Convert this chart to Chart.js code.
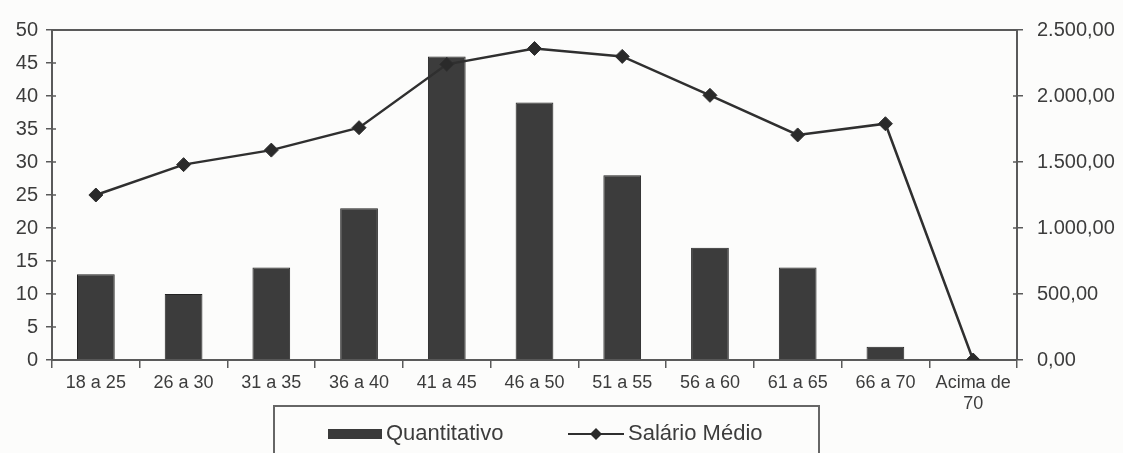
<!DOCTYPE html>
<html lang="pt-BR">
<head>
<meta charset="utf-8">
<title>Quantitativo e Salário Médio por faixa etária</title>
<script src="https://cdn.jsdelivr.net/npm/chart.js@4/dist/chart.umd.min.js"></script>
<style>
    html, body { margin: 0; padding: 0; background: #fcfcfb; }
    #wrap { position: relative; width: 1123px; height: 453px; overflow: hidden; }
    #grafico { display: block; }
    .legenda {
        position: absolute;
        left: 273px;
        top: 405px;
        width: 547px;
        height: 60px;
        border: 2px solid #666;
        box-sizing: border-box;
        font-family: "Liberation Sans", Arial, sans-serif;
        font-size: 22px;
        color: #3c3c3c;
    }
    .legenda .item { position: absolute; top: 13px; height: 26px; line-height: 26px; white-space: nowrap; }
    .legenda .barra { display: inline-block; width: 54px; height: 10px; background: #3a3a3a; vertical-align: middle; margin-right: 4px; }
    .legenda svg { vertical-align: middle; margin-right: 4px; }
</style>
</head>
<body>
<div id="wrap">
    <canvas id="grafico" width="1123" height="453"></canvas>
    <div class="legenda">
        <div class="item" style="left: 53px;"><span class="barra"></span>Quantitativo</div>
        <div class="item" style="left: 293px;">
            <svg width="56" height="14" viewBox="0 0 56 14">
                <line x1="0" y1="7" x2="56" y2="7" stroke="#2f2f2f" stroke-width="2"/>
                <polygon points="28,1 34,7 28,13 22,7" fill="#2a2a2a"/>
            </svg>Salário Médio
        </div>
    </div>
</div>

<script>
// Faixas etárias
const faixas = ['18 a 25', '26 a 30', '31 a 35', '36 a 40', '41 a 45', '46 a 50',
    '51 a 55', '56 a 60', '61 a 65', '66 a 70', ['Acima de', '70']];

// Número de funcionários por faixa
const quantitativo = [13, 10, 14, 23, 46, 39, 28, 17, 14, 2, 0];

// Salário médio (R$) por faixa
const salarioMedio = [1250, 1480, 1590, 1760, 2240, 2360, 2300, 2005, 1705, 1790, 0];

// Limites dos eixos
const eixoQtd = { min: 0, max: 50, passo: 5 };
const eixoSal = { min: 0, max: 2500, passo: 500 };

const corTexto = '#3c3c3c';
const corEixo = '#5a5a5a';
const fonte = 'Liberation Sans, Arial, sans-serif';

// Formata no padrão brasileiro: 2.500,00
const formatoBR = new Intl.NumberFormat('pt-BR', { minimumFractionDigits: 2, maximumFractionDigits: 2 });

// Moldura superior e marcas internas dos eixos verticais
const molduraPlugin = {
    id: 'moldura',
    afterDraw(chart) {
        const { ctx, chartArea } = chart;
        ctx.save();
        ctx.strokeStyle = corEixo;
        ctx.lineWidth = 2;
        ctx.beginPath();
        ctx.moveTo(chartArea.left, chartArea.top);
        ctx.lineTo(chartArea.right, chartArea.top);
        ctx.stroke();

        ctx.lineWidth = 1.5;
        ['y', 'y1'].forEach(id => {
            const s = chart.scales[id];
            const x = id === 'y' ? chartArea.left : chartArea.right;
            const dir = id === 'y' ? 1 : -1;
            s.ticks.forEach(t => {
                const py = s.getPixelForValue(t.value);
                ctx.beginPath();
                ctx.moveTo(x, py);
                ctx.lineTo(x + dir * 4, py);
                ctx.stroke();
            });
        });
        ctx.restore();
    }
};

const ctx = document.getElementById('grafico');
new Chart(ctx, {
    data: {
        labels: faixas,
        datasets: [
            {
                type: 'line',
                label: 'Salário Médio',
                data: salarioMedio,
                yAxisID: 'y1',
                borderColor: '#2f2f2f',
                borderWidth: 2.5,
                backgroundColor: '#2a2a2a',
                pointStyle: 'rectRot',
                pointRadius: 7,
                pointBorderWidth: 1,
                tension: 0,
                order: 0
            },
            {
                type: 'bar',
                label: 'Quantitativo',
                data: quantitativo,
                yAxisID: 'y',
                backgroundColor: '#3c3c3c',
                borderColor: '#222',
                borderWidth: 1,
                barPercentage: 0.43,
                categoryPercentage: 1,
                order: 1
            }
        ]
    },
    options: {
        responsive: false,
        animation: false,
        layout: { padding: { top: 30, left: 0, right: 0, bottom: 0 } },
        plugins: {
            legend: { display: false },
            tooltip: { enabled: false }
        },
        scales: {
            x: {
                offset: true,
                grid: {
                    offset: true,
                    drawOnChartArea: false,
                    drawTicks: true,
                    tickLength: 8,
                    color: corEixo,
                    lineWidth: 1.5
                },
                border: { display: true, color: corEixo, width: 2 },
                ticks: {
                    color: corTexto,
                    font: { family: fonte, size: 18 },
                    padding: 4,
                    maxRotation: 0,
                    autoSkip: false
                },
                afterFit(scale) { scale.height = 93; }
            },
            y: {
                position: 'left',
                min: eixoQtd.min,
                max: eixoQtd.max,
                grid: {
                    drawOnChartArea: false,
                    drawTicks: true,
                    tickLength: 6,
                    color: corEixo,
                    lineWidth: 1.5
                },
                border: { display: true, color: corEixo, width: 2 },
                ticks: {
                    stepSize: eixoQtd.passo,
                    color: corTexto,
                    font: { family: fonte, size: 20 },
                    padding: 8
                },
                afterFit(scale) { scale.width = 52; }
            },
            y1: {
                position: 'right',
                min: eixoSal.min,
                max: eixoSal.max,
                grid: {
                    drawOnChartArea: false,
                    drawTicks: true,
                    tickLength: 6,
                    color: corEixo,
                    lineWidth: 1.5
                },
                border: { display: true, color: corEixo, width: 2 },
                ticks: {
                    stepSize: eixoSal.passo,
                    color: corTexto,
                    font: { family: fonte, size: 20 },
                    padding: 14,
                    callback: v => formatoBR.format(v)
                },
                afterFit(scale) { scale.width = 106; }
            }
        }
    },
    plugins: [molduraPlugin]
});
</script>
</body>
</html>
